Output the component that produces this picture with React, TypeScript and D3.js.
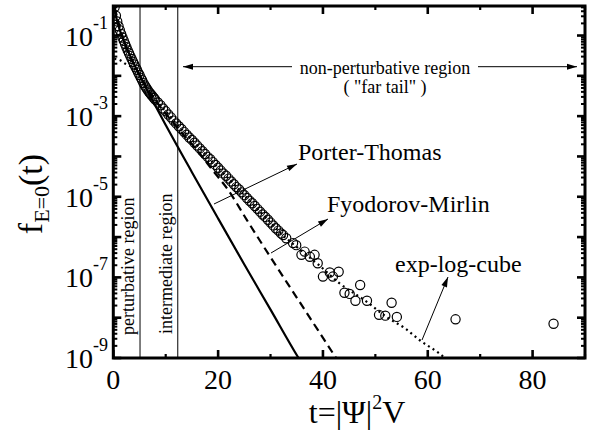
import React, { useEffect } from "react";
import * as d3 from "d3";

const W = 595;
const H = 430;
const FONT = "'Liberation Serif', 'Times New Roman', serif";

// ---- data (t, log10 f) ----
const denseT = [
  0.25, 0.5, 0.75, 1, 1.25, 1.5, 1.75, 2, 2.25, 2.5, 2.75, 3, 3.25, 3.5, 3.75, 4,
  4.25, 4.5, 4.75, 5, 5.25, 5.5, 5.75, 6, 6.25, 6.5, 6.75, 7, 7.25, 7.5, 7.75, 8,
  8.5, 9, 9.5, 10, 10.5, 11, 11.5, 12, 12.5, 13, 13.5, 14, 14.5, 15, 15.5, 16,
  16.5, 17, 17.5, 18, 18.5, 19, 19.5, 20, 20.5, 21, 21.5, 22, 22.5, 23, 23.5, 24,
  24.5, 25, 25.5, 26, 26.5, 27, 27.5, 28, 28.5, 29, 29.5, 30, 30.5, 31, 31.5, 32,
];
const denseLogF = [
  -0.3, -0.51, -0.65, -0.77, -0.87, -0.96, -1.05, -1.13, -1.21, -1.29, -1.37, -1.44, -1.51, -1.58, -1.65, -1.72,
  -1.79, -1.85, -1.92, -1.98, -2.05, -2.11, -2.18, -2.24, -2.29, -2.34, -2.39, -2.43, -2.47, -2.51, -2.55, -2.59,
  -2.66, -2.73, -2.81, -2.88, -2.96, -3.03, -3.11, -3.18, -3.25, -3.32, -3.39, -3.46, -3.53, -3.59, -3.66, -3.73,
  -3.8, -3.87, -3.94, -4.01, -4.07, -4.14, -4.21, -4.28, -4.35, -4.42, -4.48, -4.55, -4.62, -4.69, -4.76, -4.82,
  -4.89, -4.96, -5.03, -5.1, -5.16, -5.23, -5.3, -5.37, -5.44, -5.5, -5.57, -5.64, -5.71, -5.78, -5.84, -5.91,
];
const tailT = [
  32.4, 33.0, 34.3, 34.9, 36.5, 35.9, 37.5, 38.4, 39.0, 40.0, 41.3, 43.0, 41.9, 44.1,
  45.1, 46.2, 47.1, 48.4, 50.7, 51.9, 53.1, 54.1, 65.3, 84.0,
];
const tailLogF = [
  -5.95, -6.03, -6.15, -6.2, -6.36, -6.44, -6.49, -6.44, -6.65, -6.98, -6.88, -6.86, -6.98, -7.38,
  -7.41, -7.58, -7.19, -7.58, -7.93, -7.95, -7.63, -7.98, -8.04, -8.15,
];

// Porter-Thomas (solid)
const ptT = [0.25, 0.5, 0.75, 1, 1.5, 2, 3, 4, 5, 7, 10, 15, 20, 25, 30, 35.2, 36];
const ptLogF = [-0.3, -0.51, -0.65, -0.77, -0.96, -1.13, -1.44, -1.72, -1.98, -2.49, -3.22, -4.39, -5.54, -6.68, -7.8, -8.97, -9.14];

// Fyodorov-Mirlin (dashed)
const fmT = [0.25, 2, 5, 8, 12, 16, 19, 21.9, 25.5, 29.5, 35, 41.9, 42.6];
const fmLogF = [-0.3, -1.13, -1.98, -2.6, -3.25, -3.85, -4.35, -4.83, -5.58, -6.4, -7.5, -8.88, -9.02];

// exp-log-cube (dotted)
const elcT = [0.2, 0.76, 1.41, 2.17, 2.93, 4, 5, 6, 7, 8, 10, 12, 15, 20, 25, 30, 32, 35.5, 39.2, 43, 48.3, 52.1, 55.6, 58.7, 62.8, 63.4];
const elcLogF = [-1.58, -1.59, -1.62, -1.69, -1.74, -1.82, -1.98, -2.22, -2.42, -2.59, -2.88, -3.18, -3.59, -4.28, -4.96, -5.64, -5.91, -6.3, -6.69, -7.13, -7.6, -7.98, -8.26, -8.58, -8.95, -9.02];

// region boundaries (t)
const regionLines = [5.1, 12.3];

// axes
const xTickValues = [0, 10, 20, 30, 40, 50, 60, 70, 80, 90];
const xTickLabels = ["0", "20", "40", "60", "80"];
const xLabelValues = [0, 20, 40, 60, 80];
const yLabelExps = [-1, -3, -5, -7, -9];

const toPts = (ts: number[], ls: number[]) => ts.map((t, i) => [t, Math.pow(10, ls[i])] as [number, number]);

export default function App() {
  useEffect(() => {
    document.body.style.margin = "0";
  }, []);

  const x = d3.scaleLinear().domain([0, 90]).range([113.3, 585]);
  const y = d3.scaleLog().domain([1e-9, 0.54]).range([358, 6]);
  const [x0, x1] = x.range();
  const [yb, yt] = y.range();

  const line = d3
    .line<[number, number]>()
    .x((d) => x(d[0]))
    .y((d) => y(d[1]))
    .curve(d3.curveMonotoneX);

  const dataPts = [...toPts(denseT, denseLogF), ...toPts(tailT, tailLogF)];

  const yTicks = y.ticks();
  const isMajorY = (v: number) => Math.abs(Math.log10(v) - Math.round(Math.log10(v))) < 1e-6;

  const arrowHead = (xa: number, ya: number, xb: number, yb2: number, len = 10, hw = 3) => {
    const ang = Math.atan2(yb2 - ya, xb - xa);
    const bx = xb - len * Math.cos(ang);
    const by = yb2 - len * Math.sin(ang);
    const px = -Math.sin(ang) * hw;
    const py = Math.cos(ang) * hw;
    return `M${xb},${yb2}L${bx + px},${by + py}L${bx - px},${by - py}Z`;
  };

  const arrows: [number, number, number, number][] = [
    [214, 204, 297, 164],
    [271, 253, 328, 219],
    [422, 340, 448, 277],
    [292, 66.7, 183, 66.7],
    [478, 66.7, 577, 66.7],
  ];

  return (
    <svg width={W} height={H} style={{ display: "block", background: "#fff" }} fontFamily={FONT}>
      <defs>
        <clipPath id="plot">
          <rect x={x0} y={yt} width={x1 - x0} height={yb - yt} />
        </clipPath>
      </defs>

      {/* region lines */}
      {regionLines.map((t) => (
        <line key={t} x1={x(t)} x2={x(t)} y1={yt} y2={yb} stroke="#000" strokeWidth={1} />
      ))}

      <g clipPath="url(#plot)">
        <path d={line(toPts(ptT, ptLogF)) || ""} fill="none" stroke="#000" strokeWidth={2.2} />
        <path d={line(toPts(fmT, fmLogF)) || ""} fill="none" stroke="#000" strokeWidth={2.2} strokeDasharray="8 5" />
        <path d={line(toPts(elcT, elcLogF)) || ""} fill="none" stroke="#000" strokeWidth={2.2} strokeDasharray="2 3.5" />
        {dataPts.map((d, i) => (
          <circle key={i} cx={x(d[0])} cy={y(d[1])} r={4.6} fill="none" stroke="#000" strokeWidth={1.2} />
        ))}
      </g>

      {/* arrows */}
      {arrows.map((a, i) => (
        <g key={i}>
          <line x1={a[0]} y1={a[1]} x2={a[2]} y2={a[3]} stroke="#000" strokeWidth={1} />
          <path d={arrowHead(a[0], a[1], a[2], a[3])} fill="#000" />
        </g>
      ))}

      {/* ticks */}
      {xTickValues.map((t) => {
        const major = t % 20 === 0;
        const L = major ? 8 : 4;
        return (
          <g key={"xt" + t} stroke="#000" strokeWidth={major ? 2.6 : 2.2}>
            <line x1={x(t)} x2={x(t)} y1={yb} y2={yb - L} />
            <line x1={x(t)} x2={x(t)} y1={yt} y2={yt + L} />
          </g>
        );
      })}
      {yTicks.map((v, i) => {
        const major = isMajorY(v);
        const L = major ? 8 : 4;
        return (
          <g key={"yt" + i} stroke="#000" strokeWidth={major ? 2.6 : 2}>
            <line x1={x0} x2={x0 + L} y1={y(v)} y2={y(v)} />
            <line x1={x1} x2={x1 - L} y1={y(v)} y2={y(v)} />
          </g>
        );
      })}

      {/* frame */}
      <rect x={x0} y={yt} width={x1 - x0} height={yb - yt} fill="none" stroke="#000" strokeWidth={3} />

      {/* x tick labels */}
      {xLabelValues.map((t, i) => (
        <text key={"xl" + t} x={x(t)} y={389} fontSize={28} textAnchor="middle">
          {xTickLabels[i]}
        </text>
      ))}
      {/* y tick labels */}
      {yLabelExps.map((e) => (
        <text key={"yl" + e} x={108} y={y(Math.pow(10, e)) + 10} fontSize={28} textAnchor="end">
          10
          <tspan fontSize={18} dy={-17}>
            {"-" + Math.abs(e)}
          </tspan>
        </text>
      ))}

      {/* axis titles */}
      <text x={357} y={423} fontSize={32} textAnchor="middle">
        t=|Ψ|<tspan fontSize={20} dy={-14}>2</tspan>
        <tspan dy={14}>V</tspan>
      </text>
      <text transform="translate(42,194) rotate(-90)" fontSize={34} textAnchor="middle">
        f<tspan fontSize={22} dy={7}>E=0</tspan>
        <tspan dy={-7}>(t)</tspan>
      </text>

      {/* region labels */}
      <text transform="translate(134,335) rotate(-90)" fontSize={18}>perturbative region</text>
      <text transform="translate(172,334) rotate(-90)" fontSize={18}>intermediate region</text>
      <text x={385} y={74} fontSize={18} textAnchor="middle">non-perturbative region</text>
      <text x={385} y={93} fontSize={18} textAnchor="middle">( "far tail" )</text>

      {/* curve labels */}
      <text x={298} y={160} fontSize={24}>Porter-Thomas</text>
      <text x={327} y={212} fontSize={24}>Fyodorov-Mirlin</text>
      <text x={395} y={272} fontSize={24}>exp-log-cube</text>
    </svg>
  );
}
